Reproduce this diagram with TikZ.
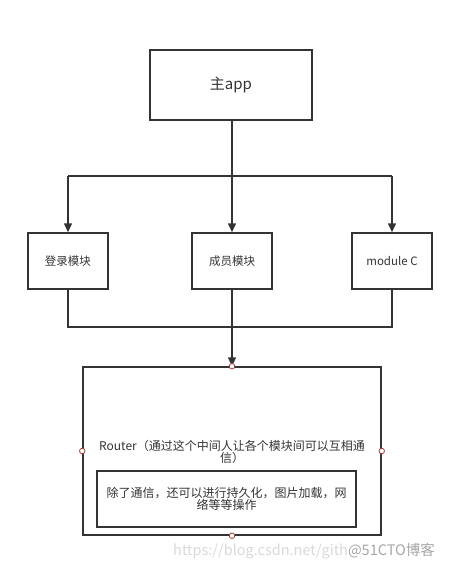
\documentclass[tikz,border=0pt]{standalone}
\usepackage{fontspec}
\newfontfamily\cjk{Noto Sans CJK SC}
\usetikzlibrary{arrows.meta}
\definecolor{ln}{HTML}{333333}
\definecolor{pt}{HTML}{A33B3B}
\begin{document}
\begin{tikzpicture}[x=1pt,y=-1pt,
  box/.style={draw=ln,line width=1.5pt,inner sep=0pt,align=center,text=ln,font=\cjk\fontsize{11.5}{13}\selectfont},
  conn/.style={draw=ln,line width=1.5pt},
  arr/.style={conn,-{Triangle[length=9pt,width=8pt]}},
  dot/.style={circle,draw=pt,fill=white,line width=0.8pt,minimum size=5.5pt,inner sep=0pt}]
\useasboundingbox (0,0) rectangle (451,568);
\node[box,minimum width=162pt,minimum height=70pt,font=\cjk\fontsize{15}{17}\selectfont] (main) at (231,85) {主app};
\node[box,minimum width=80pt,minimum height=56pt] (m1) at (68,261) {登录模块};
\node[box,minimum width=80pt,minimum height=56pt] (m2) at (232,261) {成员模块};
\node[box,minimum width=80pt,minimum height=56pt] (m3) at (392,261) {module C};
\node[box,minimum width=298pt,minimum height=168pt] (router) at (232,451) {};
\node[align=center,text=ln,font=\cjk\fontsize{12}{12}\selectfont,inner sep=0pt] (rtext) at (232,452) {Router（通过这个中间人让各个模块间可以互相通\\信）};
\node[box,minimum width=259pt,minimum height=56pt,font=\cjk\fontsize{12}{12}\selectfont] (inner) at (226.5,499) {除了通信，还可以进行持久化，图片加载，网\\络等等操作};
\coordinate (top) at (232,176);
\coordinate (bot) at (232,327);
\draw[arr] (main.south -| m2.north) -- (m2.north);
\draw[conn] (m1.north |- top) -- (m3.north |- top);
\draw[arr] (m1.north |- top) -- (m1.north);
\draw[arr] (m3.north |- top) -- (m3.north);
\draw[conn] (m1.south) -- (m1.south |- bot) -- (m3.south |- bot) -- (m3.south);
\draw[arr] (m2.south) -- (router.north);
\node[dot] at (router.north) {};
\node[dot] at (router.south) {};
\node[dot] at (router.west) {};
\node[dot] at (router.east) {};
\node[anchor=west,inner sep=0pt,font=\cjk\fontsize{14.5}{16}\selectfont] (wm) at (173,551) {\textcolor{black!15}{https://blog.csdn.net/gith}\textcolor{black!35}{@51CTO博客}};
\end{tikzpicture}
\end{document}
